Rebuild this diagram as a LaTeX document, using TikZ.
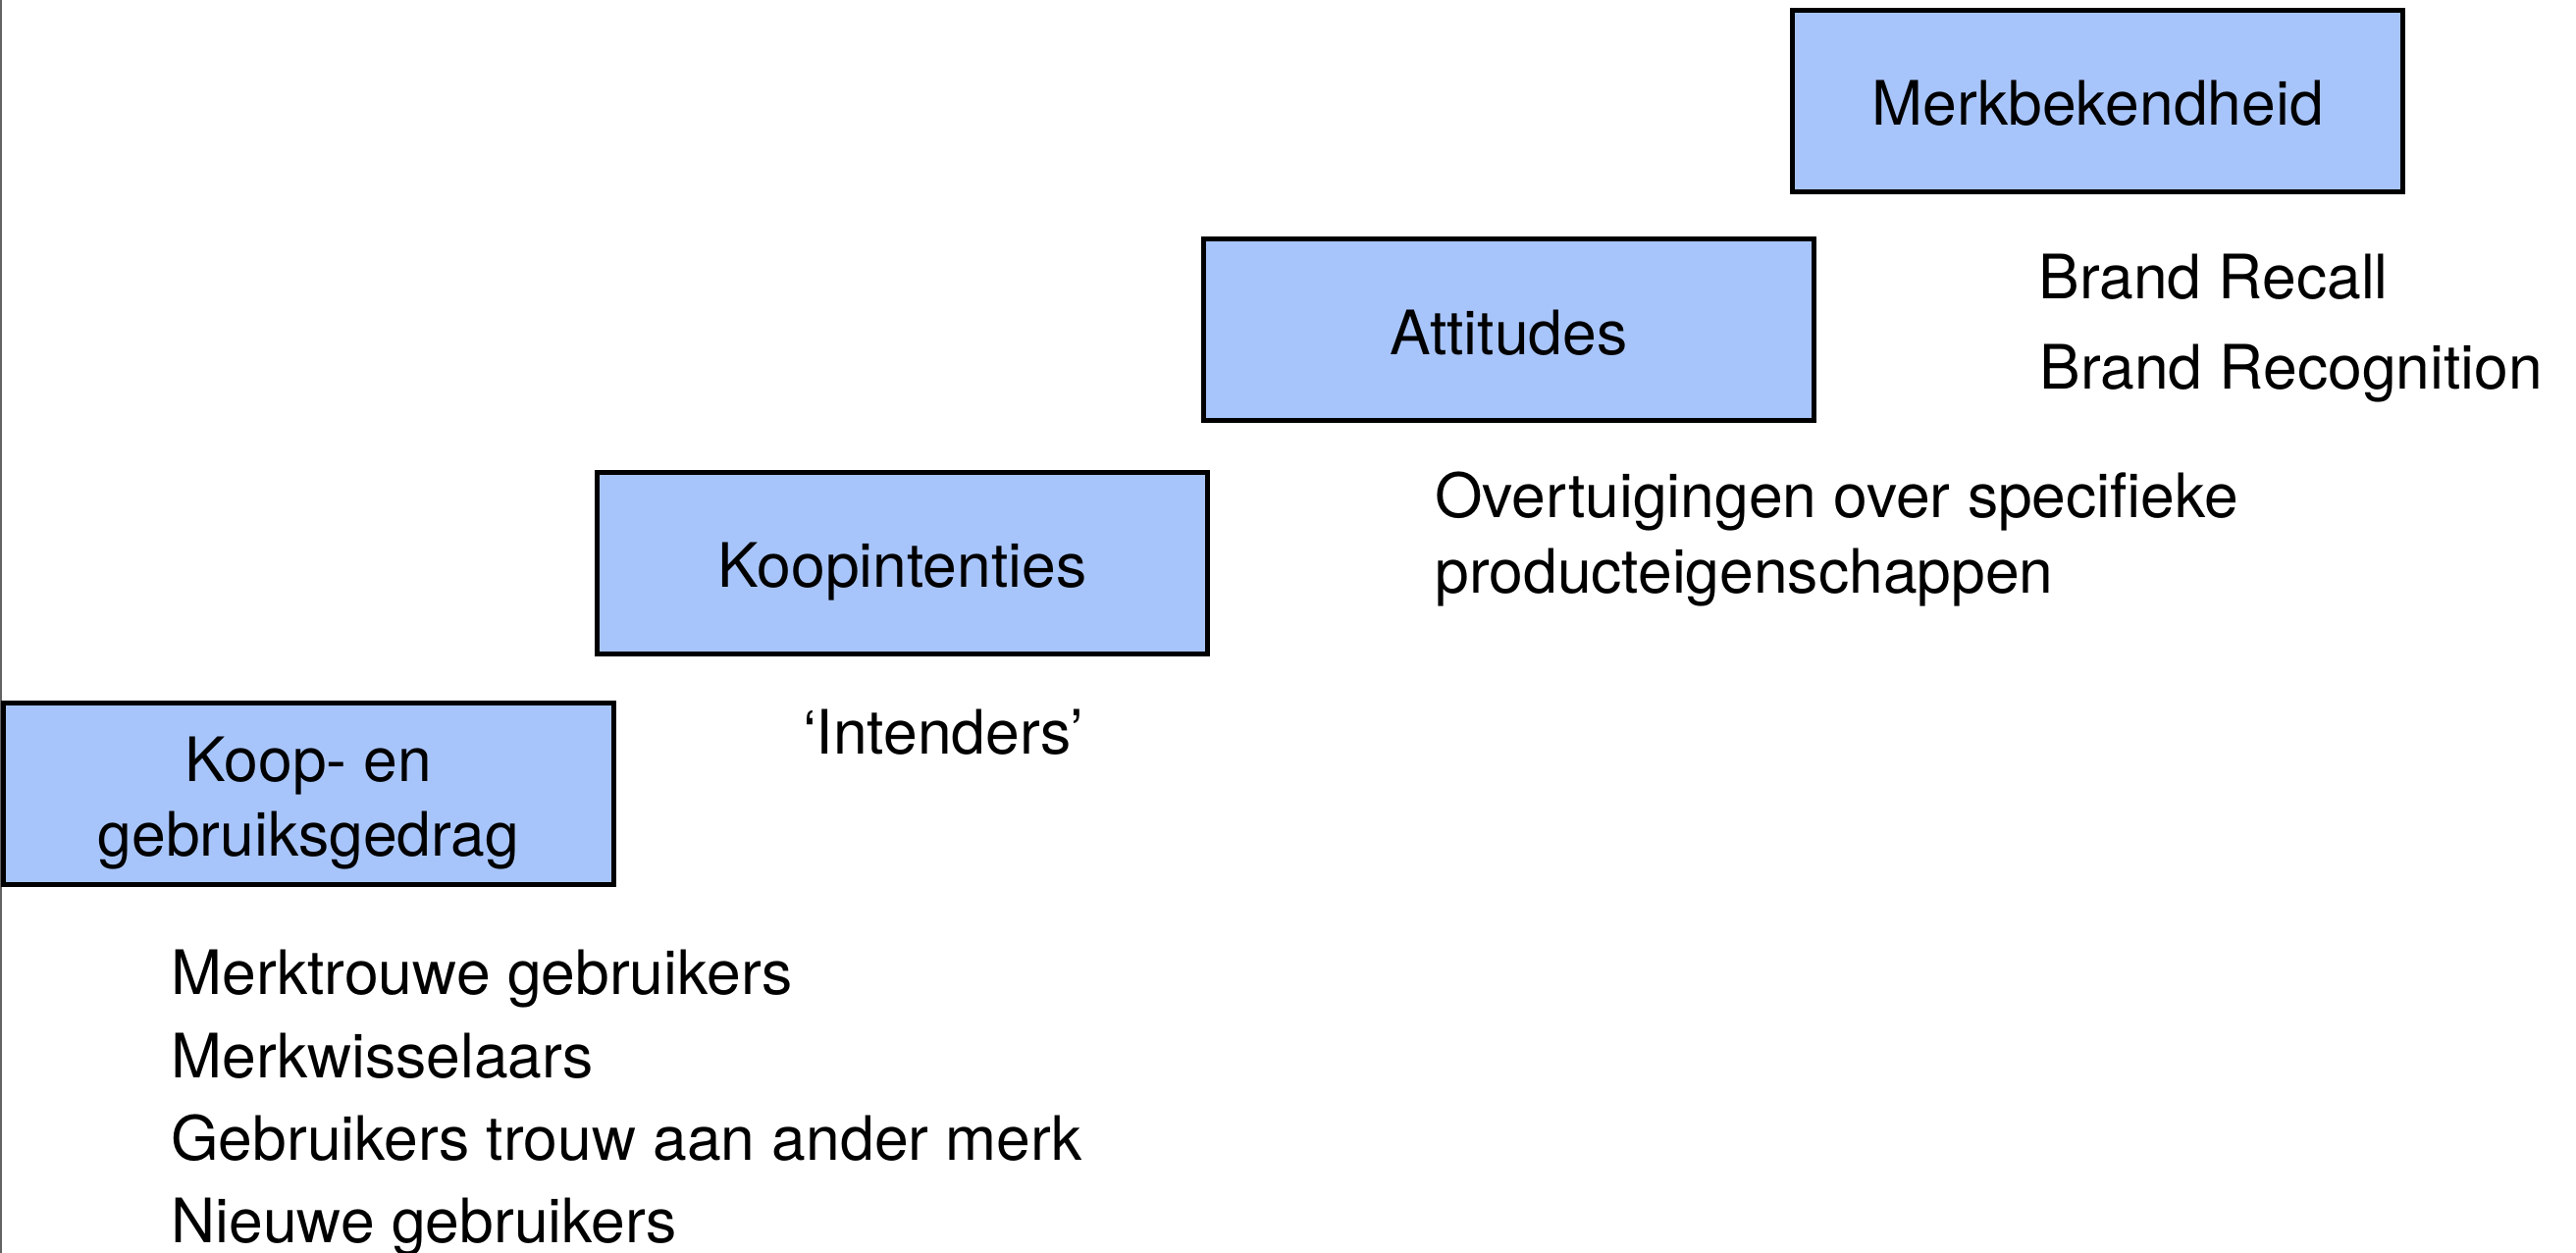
\documentclass[tikz,border=0pt]{standalone}
\usepackage{fontspec}
\setmainfont{TeX Gyre Heros}
\definecolor{boxblue}{RGB}{168,197,251}
\definecolor{edgegray}{RGB}{100,100,100}
\begin{document}
\begin{tikzpicture}[x=0.5pt,y=-0.5pt,
  every node/.style={font=\fontsize{31.2pt}{38pt}\selectfont, text=black},
  stagebox/.style={draw=black, line width=2.5pt, fill=boxblue, minimum width=311pt, minimum height=92.5pt, inner sep=0pt, text height=31pt, text depth=6pt},
  boxtext/.style={align=center, inner sep=0pt},
  freetext/.style={anchor=base west, inner sep=0pt}]
\useasboundingbox (0,0) rectangle (2625,1277);
\fill[white] (0,0) rectangle (2625,1277);
\draw[edgegray, line width=1pt] (1,0) -- (1,1277);

\node[stagebox] (merk) at (2137.5,103) {Merkbekendheid};
\node[stagebox] (att) at (1537.5,336.5) {Attitudes};
\node[stagebox] (koopint) at (919.5,574) {Koopintenties};
\node[stagebox] (kg) at (314.5,809) {};
\node[boxtext, yshift=-5pt] (kgtext) at (kg.center) {Koop- en\\gebruiksgedrag};

\node[freetext] (recall) at (2077,305) {Brand Recall};
\node[freetext] (recog) at (2078,397) {Brand Recognition};
\node[freetext] (over1) at (1462,528) {Overtuigingen over specifieke};
\node[freetext] (over2) at (1462,605) {producteigenschappen};
\node[anchor=base, inner sep=0pt] (intenders) at (961,769) {‘Intenders’};
\node[freetext] (l1) at (174,1014) {Merktrouwe gebruikers};
\node[freetext] (l2) at (174,1098) {Merkwisselaars};
\node[freetext] (l3) at (174,1182) {Gebruikers trouw aan ander merk};
\node[freetext] (l4) at (174,1266) {Nieuwe gebruikers};
\end{tikzpicture}
\end{document}
